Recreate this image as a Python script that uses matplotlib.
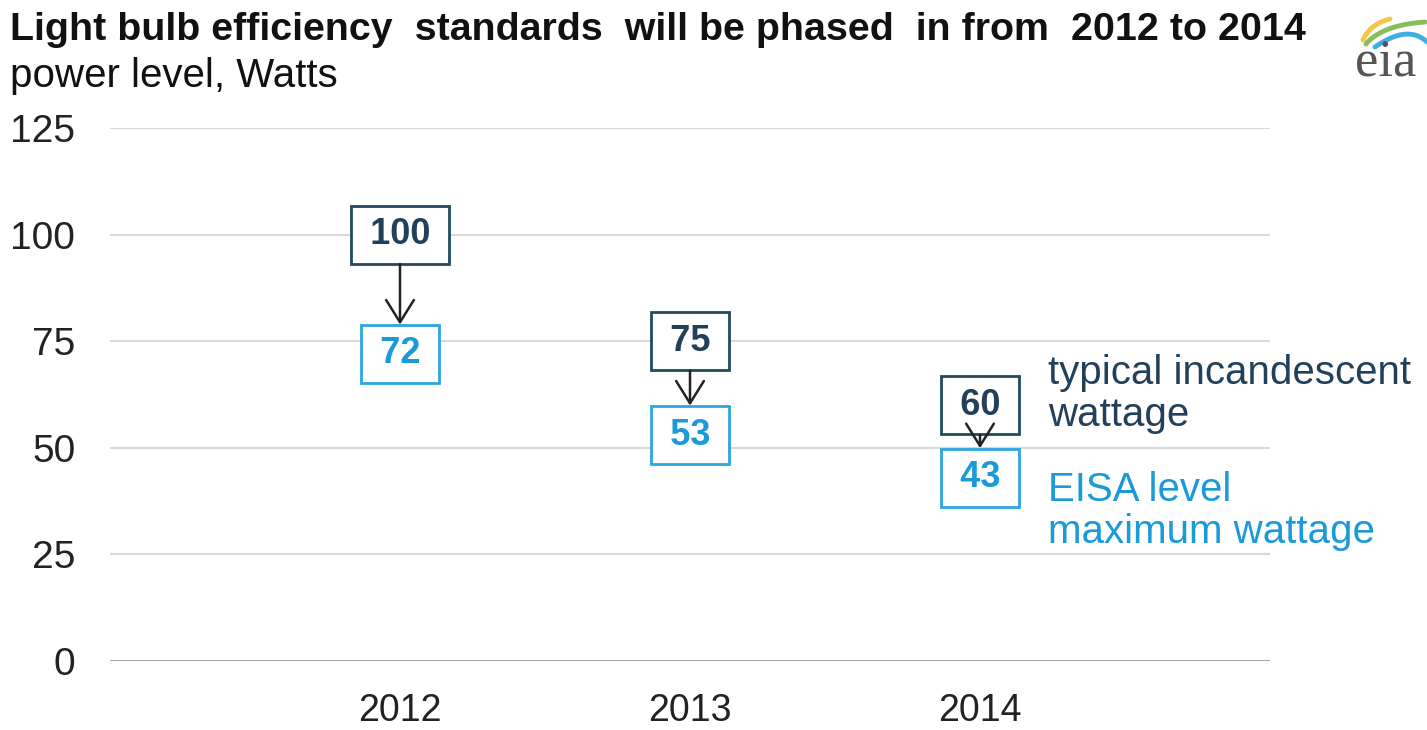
import numpy as np
from matplotlib import pyplot as plt

years = ["2012", "2013", "2014"]
typical = [100, 75, 60]     # typical incandescent wattage
eisa = [72, 53, 43]         # EISA level maximum wattage
yticks = [0, 25, 50, 75, 100, 125]

dark = "#1f4a60"
dark_txt = "#22405a"
blue = "#2aa6e0"
blue_txt = "#1b9ad8"
grid_c = "#d9d9d9"

plt.rcParams['font.family'] = ['Liberation Sans', 'DejaVu Sans']

fig = plt.figure(figsize=(14.27, 7.30), dpi=100)
ax = fig.add_axes([110/1427, 69/730, 1160/1427, 533/730])
ax.set_xlim(-1, 3)
ax.set_ylim(0, 125)
ax.set_yticks(yticks)
ax.set_xticks(range(len(years)))
ax.set_xticklabels(years)
ax.tick_params(axis='both', length=0, colors='#222222')
ax.tick_params(axis='y', pad=25, labelsize=28)
ax.tick_params(axis='x', pad=23, labelsize=27)
ax.grid(axis='y', color=grid_c, lw=1.5)
ax.set_axisbelow(True)
for s in ax.spines.values():
    s.set_visible(False)
ax.axhline(0, color='#a0a0a0', lw=2, zorder=1)

half = 6.9  # half box height in data units
ts = "\u2009"
for i, (t, e) in enumerate(zip(typical, eisa)):
    ax.annotate('', xy=(i, e + half), xytext=(i, t - half),
                arrowprops=dict(arrowstyle='->,head_length=1.6,head_width=1.0',
                                color='#222222', lw=1.8, shrinkA=0, shrinkB=0),
                zorder=4)
    ax.text(i, t, ts + "%d" % t + ts, ha='center', va='center', fontsize=26,
            fontweight='bold', color=dark_txt, zorder=3,
            bbox=dict(boxstyle='square,pad=0.32', fc='white', ec=dark, lw=2))
    ax.text(i, e, ts + "%d" % e + ts, ha='center', va='center', fontsize=26,
            fontweight='bold', color=blue_txt, zorder=3,
            bbox=dict(boxstyle='square,pad=0.32', fc='white', ec=blue, lw=2))

fig.text(1048/1427, 1 - 394/730, "typical incandescent\nwattage", fontsize=29,
         color=dark_txt, ha='left', va='center', linespacing=1.15)
fig.text(1048/1427, 1 - 511/730, "EISA level\nmaximum wattage", fontsize=29,
         color=blue_txt, ha='left', va='center', linespacing=1.15)

fig.text(10/1427, 1 - 30/730, "Light bulb efficiency  standards  will be phased  in from  2012 to 2014",
         fontsize=28.4, fontweight='bold', color='#111111', ha='left', va='center')
fig.text(10/1427, 1 - 76/730, "power level, Watts", fontsize=29,
         color='#111111', ha='left', va='center')

# eia logo
fig.text(1386/1427, 1 - 75/730, "eia", fontsize=38, family='Liberation Serif',
         color='#555555', ha='center', va='baseline')
lax = fig.add_axes([1340/1427, 1 - 60/730, 87/1427, 50/730])
lax.set_xlim(1340, 1427)
lax.set_ylim(60, 10)
lax.axis('off')
tt = np.linspace(0, 1, 40)[:, None]
for p0, p1, p2, c in [((1363, 40), (1370, 24), (1390, 19), '#f2c12e'),
                      ((1366, 44), (1382, 25), (1425, 22), '#7ab648'),
                      ((1375, 47), (1408, 24), (1427, 42), '#2aa6e0')]:
    p0, p1, p2 = np.array(p0), np.array(p1), np.array(p2)
    b = (1 - tt)**2 * p0 + 2 * (1 - tt) * tt * p1 + tt**2 * p2
    lax.plot(b[:, 0], b[:, 1], color=c, lw=3.5, solid_capstyle='round', alpha=0.9)

fig.savefig("out.png", dpi=100)
